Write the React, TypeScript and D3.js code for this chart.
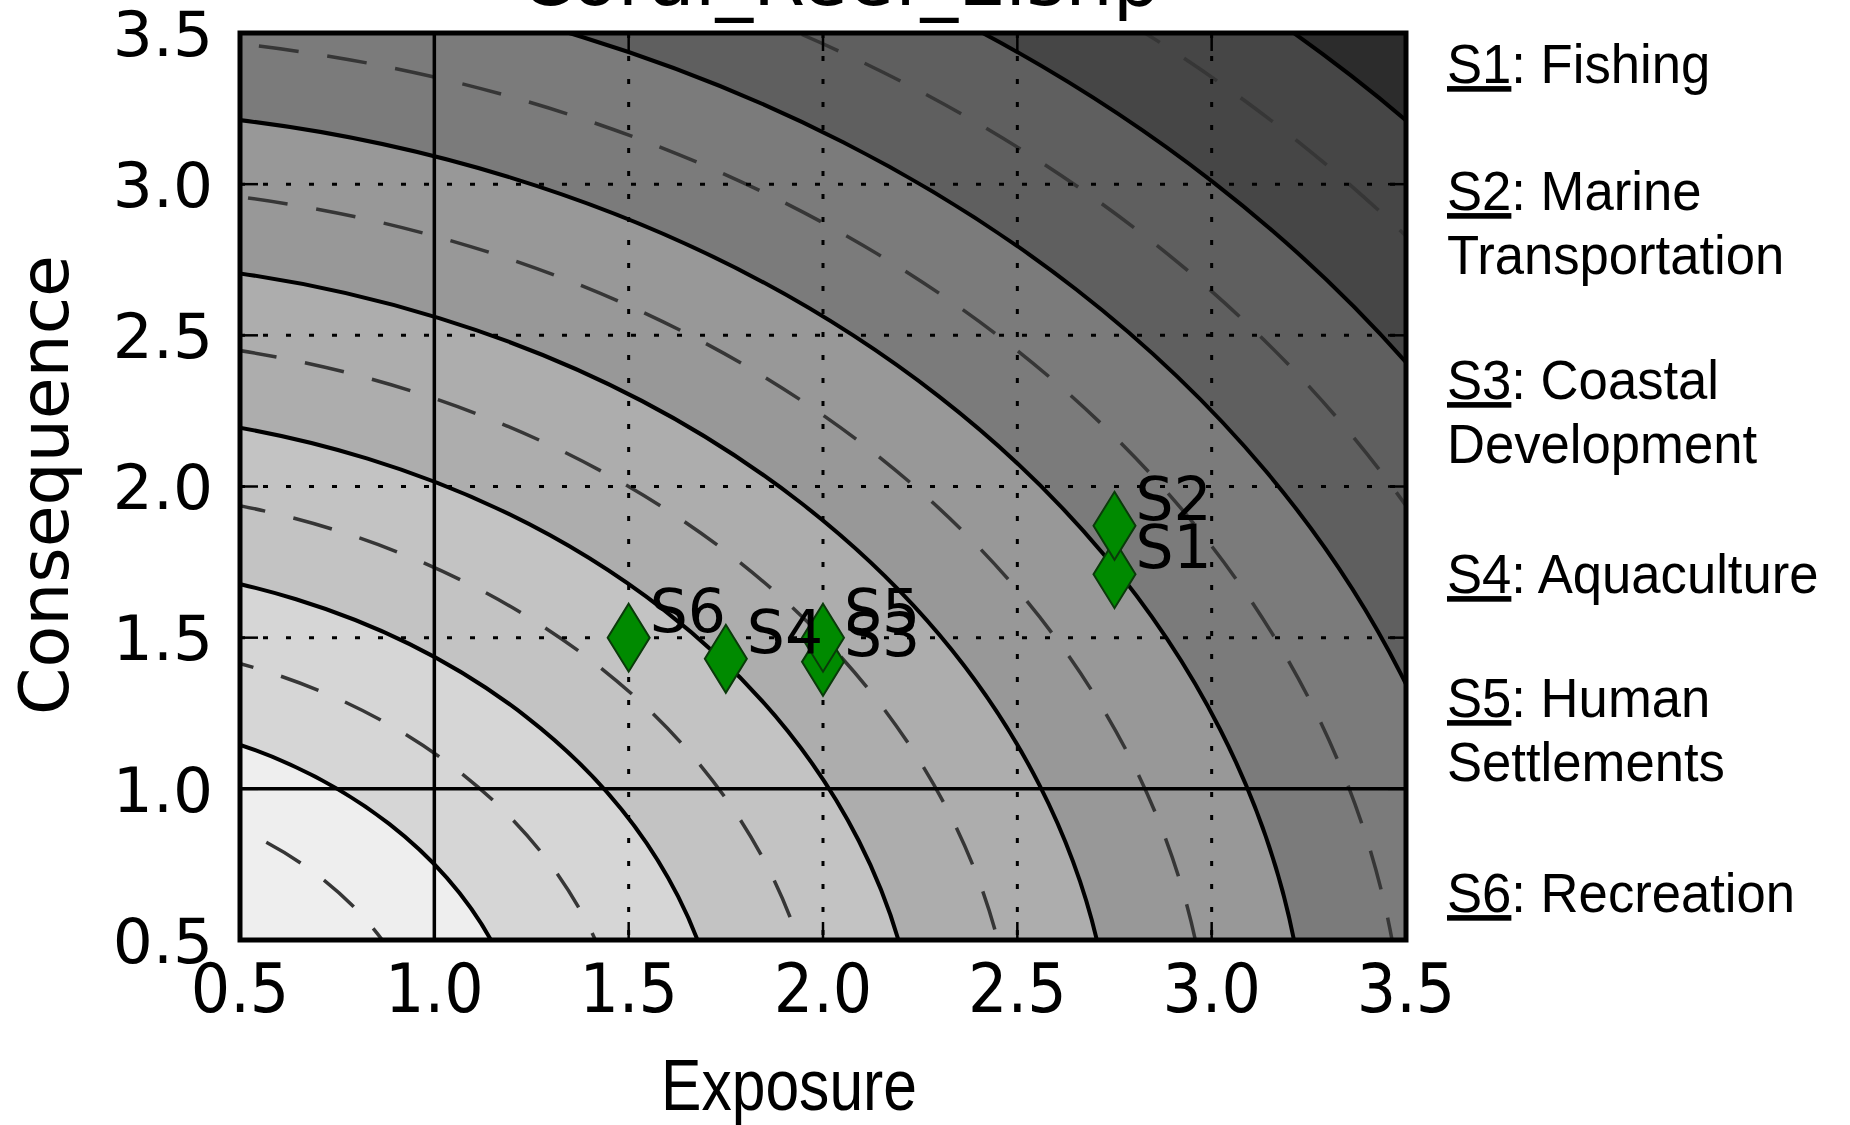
import React from 'react';
import * as d3 from 'd3';

// ---- data ----
const stressorIds = ['S1', 'S2', 'S3', 'S4', 'S5', 'S6'];
const exposureValues = [2.75, 2.75, 2.0, 1.75, 2.0, 1.5];
const consequenceValues = [1.71, 1.87, 1.42, 1.43, 1.5, 1.5];
const legendLines = [
  ['Fishing'],
  ['Marine', 'Transportation'],
  ['Coastal', 'Development'],
  ['Aquaculture'],
  ['Human', 'Settlements'],
  ['Recreation'],
];
const tickValues = [0.5, 1.0, 1.5, 2.0, 2.5, 3.0, 3.5];
const gridValues = [1.5, 2.0, 2.5, 3.0];
const refValues = [1.0];
const solidLevels = [1.25, 1.75, 2.25, 2.75, 3.25, 3.75, 4.25, 4.75];
const dashedLevels = [1.0, 1.5, 2.0, 2.5, 3.0, 3.5, 4.0, 4.5];
const bandColors = ['#eeeeee', '#d6d6d6', '#c3c3c3', '#adadad', '#989898', '#7b7b7b', '#5f5f5f', '#464646', '#2c2c2c'];
const titleText = 'Coral_Reef_Elshp';
const xLabel = 'Exposure';
const yLabel = 'Consequence';

const W = 1850;
const H = 1125;
const M = { left: 240, right: 1406, top: 33, bottom: 940 };

export default function App() {
  const x = d3.scaleLinear().domain([0.5, 3.5]).range([M.left, M.right]);
  const y = d3.scaleLinear().domain([0.5, 3.5]).range([M.bottom, M.top]);
  const cx = x(0);
  const cy = y(0);
  const fmt = d3.format('.1f');
  const diamond = 'M0,-34L21,0L0,34L-21,0Z';
  const legendStarts = [83, 210, 399, 593, 717, 912];
  const legendLineGap = 64;

  return (
    <svg width={W} height={H} style={{ position: 'absolute', left: 0, top: 0 }}>
      <defs>
        <clipPath id="plotClip">
          <rect x={M.left} y={M.top} width={M.right - M.left} height={M.bottom - M.top} />
        </clipPath>
      </defs>
      <rect x={0} y={0} width={W} height={H} fill="#ffffff" />
      <text x={840} y={5} textAnchor="middle" fontFamily="DejaVu Sans" fontSize={75} fill="#000">{titleText}</text>

      <g clipPath="url(#plotClip)">
        <rect x={M.left} y={M.top} width={M.right - M.left} height={M.bottom - M.top} fill={bandColors[bandColors.length - 1]} />
        {solidLevels.slice().reverse().map((r, i) => {
          const idx = solidLevels.length - 1 - i;
          return (
            <ellipse key={'f' + r} cx={cx} cy={cy} rx={x(r) - cx} ry={cy - y(r)} fill={bandColors[idx]} />
          );
        })}
        {dashedLevels.map((r) => (
          <ellipse key={'d' + r} cx={cx} cy={cy} rx={x(r) - cx} ry={cy - y(r)} fill="none" stroke="#363636" strokeWidth={3.5} strokeDasharray="40 29" />
        ))}
        {solidLevels.map((r) => (
          <ellipse key={'s' + r} cx={cx} cy={cy} rx={x(r) - cx} ry={cy - y(r)} fill="none" stroke="#000" strokeWidth={4} />
        ))}
        {gridValues.map((v) => (
          <g key={'g' + v}>
            <line x1={x(v)} x2={x(v)} y1={M.top} y2={M.bottom} stroke="#000" strokeWidth={3} strokeDasharray="5 18" />
            <line x1={M.left} x2={M.right} y1={y(v)} y2={y(v)} stroke="#000" strokeWidth={3} strokeDasharray="5 18" />
          </g>
        ))}
        {refValues.map((v) => (
          <g key={'r' + v}>
            <line x1={x(v)} x2={x(v)} y1={M.top} y2={M.bottom} stroke="#000" strokeWidth={3.5} />
            <line x1={M.left} x2={M.right} y1={y(v)} y2={y(v)} stroke="#000" strokeWidth={3.5} />
          </g>
        ))}
        {tickValues.map((v) => (
          <g key={'t' + v} stroke="#000" strokeWidth={2.5}>
            <line x1={M.left} x2={M.left + 18} y1={y(v)} y2={y(v)} />
            <line x1={M.right} x2={M.right - 18} y1={y(v)} y2={y(v)} />
            <line x1={x(v)} x2={x(v)} y1={M.bottom} y2={M.bottom - 18} />
            <line x1={x(v)} x2={x(v)} y1={M.top} y2={M.top + 18} />
          </g>
        ))}
      </g>

      <rect x={M.left} y={M.top} width={M.right - M.left} height={M.bottom - M.top} fill="none" stroke="#000" strokeWidth={5} />

      {stressorIds.map((s, i) => (
        <path key={'m' + s} d={diamond} transform={`translate(${x(exposureValues[i])},${y(consequenceValues[i])})`} fill="#008a00" stroke="#0a3a0a" strokeWidth={2} />
      ))}
      {stressorIds.map((s, i) => (
        <text key={'l' + s} x={x(exposureValues[i]) + 21} y={y(consequenceValues[i]) - 6} fontFamily="DejaVu Sans" fontSize={60} fill="#000">{s}</text>
      ))}

      {tickValues.map((v) => (
        <text key={'yl' + v} x={213} y={y(v)} dy="0.36em" textAnchor="end" fontFamily="DejaVu Sans" fontSize={63} fill="#000">{fmt(v)}</text>
      ))}
      {tickValues.map((v) => (
        <text key={'xl' + v} transform={`translate(${x(v)},1012) scale(1,1.1)`} textAnchor="middle" fontFamily="DejaVu Sans" fontSize={62} fill="#000">{fmt(v)}</text>
      ))}

      <text transform="translate(68,485) rotate(-90)" textAnchor="middle" fontFamily="DejaVu Sans" fontSize={68} fill="#000">{yLabel}</text>
      <text transform="translate(789,1110) scale(0.83,1)" textAnchor="middle" fontFamily="Liberation Sans, Arial, sans-serif" fontSize={73} fill="#000">{xLabel}</text>

      {stressorIds.map((s, i) => (
        <g key={'lg' + s} transform={`translate(1447,${legendStarts[i]}) scale(0.94,1)`} fontFamily="Liberation Sans, Arial, sans-serif" fontSize={56} fill="#000">
          {legendLines[i].map((line, j) => (
            <text key={j} x={0} y={j * legendLineGap}>
              {j === 0 ? (
                <>
                  <tspan textDecoration="underline">{s}</tspan>
                  <tspan>{': ' + line}</tspan>
                </>
              ) : line}
            </text>
          ))}
        </g>
      ))}
    </svg>
  );
}
